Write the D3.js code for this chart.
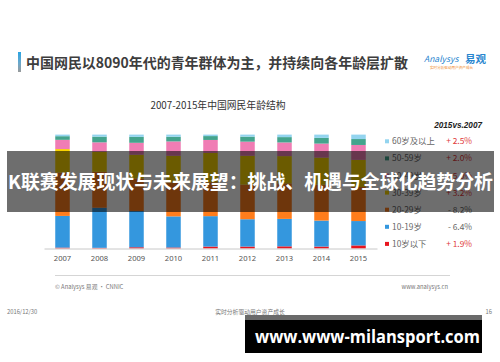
<!DOCTYPE html>
<html>
<head>
<meta charset="utf-8">
<script src="https://cdn.jsdelivr.net/npm/d3@7"></script>
<style>
  html, body { margin: 0; padding: 0; background: #fff; }
  svg { display: block; font-family: "Noto Sans CJK SC", "Noto Sans", sans-serif; }
</style>
</head>
<body>
<div id="chart"></div>
<script>
// DATA //

const years = [ '2007', '2008', '2009', '2010', '2011', '2012', '2013', '2014', '2015' ];
const ageGroups = [ '10岁以下', '10-19岁', '20-29岁', '30-39岁', '40-49岁', '50-59岁', '60岁及以上' ];

// share of netizens (%) per year, one array per age group
const under10 = [ 0.8, 0.6, 1.1, 0.9, 1.7, 1.7, 1.9, 1.7, 2.7 ];
const age10to19 = [ 27.8, 35.2, 31.8, 27.3, 26.7, 24.0, 24.1, 22.8, 21.4 ];
const age20to29 = [ 38.1, 31.5, 28.6, 29.8, 29.8, 30.4, 31.2, 31.5, 29.9 ];
const age30to39 = [ 20.6, 17.6, 20.8, 23.4, 25.7, 25.3, 23.9, 23.8, 23.8 ];
const age40to49 = [ 8.1, 8.3, 10.5, 12.6, 11.4, 12.4, 12.0, 12.3, 13.1 ];
const age50to59 = [ 3.2, 5.0, 5.2, 4.1, 3.4, 4.4, 4.7, 5.0, 5.2 ];
const age60plus = [ 1.4, 1.8, 2.0, 1.9, 1.3, 1.8, 2.2, 2.9, 3.9 ];

// change 2015 vs 2007, same order as ageGroups
const changeLabels = [ '+ 1.9%', '- 6.4%', '- 8.2%', '+ 3.2%', '+ 5.0%', '+ 2.0%', '+ 2.5%' ];

const seriesValues = [ under10, age10to19, age20to29, age30to39, age40to49, age50to59, age60plus ];
const colors = [ '#e8151f', '#3497de', '#ff7d1c', '#f9d400', '#f07db4', '#44a48d', '#93d4ef' ];

// SETUP //

const width = 500;
const height = 362;

const svg = d3.select( '#chart' ).append( 'svg' )
	.attr( 'width', width )
	.attr( 'height', height );

svg.append( 'rect' )
	.attr( 'width', width )
	.attr( 'height', height )
	.attr( 'fill', '#fff' );

// Page heading with the little accent bar on its left.
const grad = svg.append( 'defs' ).append( 'linearGradient' )
	.attr( 'id', 'accent' )
	.attr( 'x1', 0 ).attr( 'y1', 0 ).attr( 'x2', 0 ).attr( 'y2', 1 );
grad.append( 'stop' ).attr( 'offset', '0%' ).attr( 'stop-color', '#2aa4e2' );
grad.append( 'stop' ).attr( 'offset', '55%' ).attr( 'stop-color', '#6aa8cc' );
grad.append( 'stop' ).attr( 'offset', '100%' ).attr( 'stop-color', '#9a9a9a' );

svg.append( 'rect' )
	.attr( 'x', 18 ).attr( 'y', 52 )
	.attr( 'width', 3 ).attr( 'height', 20 )
	.attr( 'fill', 'url(#accent)' );

svg.append( 'text' )
	.attr( 'x', 26 ).attr( 'y', 67.5 )
	.attr( 'font-size', 14.2 )
	.attr( 'font-weight', 'bold' )
	.attr( 'fill', '#3d3d3d' )
	.attr( 'textLength', 382 )
	.attr( 'lengthAdjust', 'spacingAndGlyphs' )
	.text( '中国网民以8090年代的青年群体为主，并持续向各年龄层扩散' );

// Logo.
const logo = svg.append( 'g' ).attr( 'transform', 'translate(424,0)' );
logo.append( 'text' )
	.attr( 'x', 0 ).attr( 'y', 62 )
	.attr( 'font-size', 8.5 )
	.attr( 'font-style', 'italic' )
	.attr( 'fill', '#2a86cf' )
	.text( 'Analysys' );
logo.append( 'text' )
	.attr( 'x', 41 ).attr( 'y', 62.5 )
	.attr( 'font-size', 10.5 )
	.attr( 'font-weight', 'bold' )
	.attr( 'fill', '#2a86cf' )
	.text( '易观' );
logo.append( 'text' )
	.attr( 'x', 6 ).attr( 'y', 68.5 )
	.attr( 'font-size', 3.6 )
	.attr( 'fill', '#f08a2a' )
	.text( '实时分析驱动用户资产成长' );

// Chart title.
svg.append( 'text' )
	.attr( 'x', 218 ).attr( 'y', 108.5 )
	.attr( 'text-anchor', 'middle' )
	.attr( 'font-size', 9.8 )
	.attr( 'fill', '#333' )
	.text( '2007-2015年中国网民年龄结构' );

// SCALES //

const x = d3.scaleBand()
	.domain( years )
	.range([ 44, 377 ])
	.paddingInner( 0.608 )
	.paddingOuter( 0.304 );

const y = d3.scaleLinear()
	.domain([ 0, 100 ])
	.range([ 248.5, 134.6 ]);

const table = years.map( ( yr, i ) => {
	const row = { year: yr };
	ageGroups.forEach( ( g, j ) => { row[ g ] = seriesValues[ j ][ i ]; });
	return row;
});

const stacked = d3.stack().keys( ageGroups )( table );

// BARS //

const layers = svg.append( 'g' ).selectAll( 'g' )
	.data( stacked )
	.enter().append( 'g' )
	.attr( 'fill', ( d, i ) => colors[ i ] );

layers.selectAll( 'rect' )
	.data( d => d )
	.enter().append( 'rect' )
	.attr( 'x', d => x( d.data.year ) )
	.attr( 'y', d => y( d[1] ) )
	.attr( 'width', x.bandwidth() )
	.attr( 'height', d => y( d[0] ) - y( d[1] ) );

// AXIS //

const xAxis = svg.append( 'g' )
	.attr( 'transform', 'translate(0,' + y( 0 ) + ')' )
	.call( d3.axisBottom( x ).tickSize( 0 ).tickSizeOuter( 0 ).tickPadding( 7 ) );

xAxis.select( '.domain' ).attr( 'stroke', '#c8c8c8' );
xAxis.selectAll( 'text' )
	.attr( 'font-size', 7.6 )
	.attr( 'fill', '#555' )
	.attr( 'font-family', '"Noto Sans", sans-serif' );

// LEGEND //

svg.append( 'text' )
	.attr( 'x', 482 ).attr( 'y', 127.5 )
	.attr( 'text-anchor', 'end' )
	.attr( 'font-size', 8.2 )
	.attr( 'font-weight', 'bold' )
	.attr( 'font-style', 'italic' )
	.attr( 'font-family', '"Liberation Sans", sans-serif' )
	.attr( 'fill', '#222' )
	.text( '2015vs.2007' );

const legendOrder = d3.range( ageGroups.length ).reverse();
const legend = svg.append( 'g' ).selectAll( 'g' )
	.data( legendOrder )
	.enter().append( 'g' )
	.attr( 'transform', ( d, i ) => 'translate(385,' + ( 141.3 + i * 17.1 ) + ')' );

legend.append( 'rect' )
	.attr( 'x', 0 ).attr( 'y', -2 )
	.attr( 'width', 4 ).attr( 'height', 4 )
	.attr( 'fill', d => colors[ d ] );

legend.append( 'text' )
	.attr( 'x', 7 ).attr( 'y', 3 )
	.attr( 'font-size', 8.4 )
	.attr( 'fill', '#666' )
	.text( d => ageGroups[ d ] );

legend.append( 'text' )
	.attr( 'x', 87 ).attr( 'y', 3 )
	.attr( 'text-anchor', 'end' )
	.attr( 'font-size', 8.4 )
	.attr( 'fill', d => changeLabels[ d ].charAt( 0 ) === '+' ? '#e0393b' : '#666' )
	.text( d => changeLabels[ d ] );

// FOOTER //

svg.append( 'line' )
	.attr( 'x1', 55 ).attr( 'x2', 450 )
	.attr( 'y1', 275.5 ).attr( 'y2', 275.5 )
	.attr( 'stroke', '#d5d5d5' );

const foot = [
	{ x: 55, y: 289, anchor: 'start', text: '© Analysys 易观 · CNNIC' },
	{ x: 448, y: 289, anchor: 'end', text: 'www.analysys.cn' },
	{ x: 7, y: 314, anchor: 'start', text: '2016/12/30' },
	{ x: 250, y: 314, anchor: 'middle', text: '实时分析驱动用户资产成长' },
	{ x: 492, y: 314, anchor: 'end', text: '16' }
];
svg.append( 'g' ).selectAll( 'text' )
	.data( foot )
	.enter().append( 'text' )
	.attr( 'x', d => d.x )
	.attr( 'y', d => d.y )
	.attr( 'text-anchor', d => d.anchor )
	.attr( 'font-size', 5.8 )
	.attr( 'fill', '#777' )
	.text( d => d.text );

// OVERLAYS //

svg.append( 'rect' )
	.attr( 'x', 7 ).attr( 'y', 151 )
	.attr( 'width', 487 ).attr( 'height', 61 )
	.attr( 'fill', '#000' )
	.attr( 'fill-opacity', 0.57 );

svg.append( 'text' )
	.attr( 'x', 250.5 ).attr( 'y', 188.5 )
	.attr( 'text-anchor', 'middle' )
	.attr( 'font-size', 19 )
	.attr( 'font-weight', 'bold' )
	.attr( 'fill', '#fff' )
	.attr( 'textLength', 485 )
	.attr( 'lengthAdjust', 'spacingAndGlyphs' )
	.text( 'K联赛发展现状与未来展望：挑战、机遇与全球化趋势分析' );

svg.append( 'rect' )
	.attr( 'x', 245 ).attr( 'y', 315 )
	.attr( 'width', 237 ).attr( 'height', 5 )
	.attr( 'fill', '#6a6a6a' );

svg.append( 'rect' )
	.attr( 'x', 245 ).attr( 'y', 320 )
	.attr( 'width', 237 ).attr( 'height', 33 )
	.attr( 'fill', '#000' );

svg.append( 'text' )
	.attr( 'x', 367.5 ).attr( 'y', 342.5 )
	.attr( 'text-anchor', 'middle' )
	.attr( 'font-size', 17 )
	.attr( 'font-weight', 'bold' )
	.attr( 'font-family', '"Open Sans", "Noto Sans", sans-serif' )
	.attr( 'fill', '#fff' )
	.attr( 'textLength', 225 )
	.attr( 'lengthAdjust', 'spacingAndGlyphs' )
	.text( 'www.www-milansport.com' );
</script>
</body>
</html>
